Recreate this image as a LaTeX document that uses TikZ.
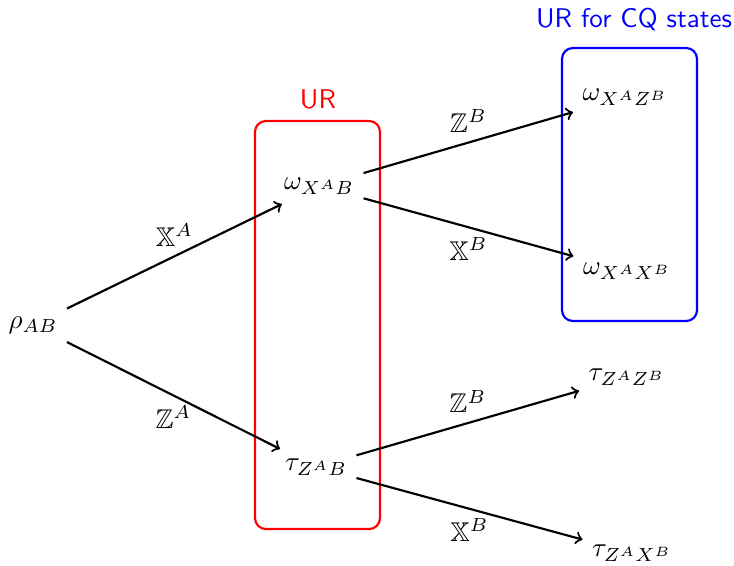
\documentclass[tikz,border=0pt]{standalone}
\usepackage{amssymb}
\begin{document}
\begin{tikzpicture}[x=0.013cm,y=-0.013cm,
  conn/.style={->,thick},
  boxline/.style={thick,rounded corners=4pt},
  lab/.style={font=\sffamily}]
\useasboundingbox (0,0) rectangle (734,565);
% boxes
\draw[boxline,red] (255,121) rectangle (380,529);
\draw[boxline,blue] (562,48) rectangle (697,321);
\node[lab,text=red] (urlab) at (318,99) {UR};
\node[lab,text=blue] (cqlab) at (634,19) {UR for CQ states};
% states
\node (rho) at (33,325) {$\rho_{AB}$};
\node (wxb) at (319,186) {$\omega_{X^AB}$};
\node (tzb) at (316,467) {$\tau_{Z^AB}$};
\node (wxz) at (625,97) {$\omega_{X^AZ^B}$};
\node (wxx) at (627,271) {$\omega_{X^AX^B}$};
\node (tzz) at (627,377) {$\tau_{Z^AZ^B}$};
\node (tzx) at (632,553) {$\tau_{Z^AX^B}$};
% connectors
\draw[conn] (rho) -- node[above] {$\mathbb{X}^A$} (wxb);
\draw[conn] (rho) -- node[below] {$\mathbb{Z}^A$} (tzb);
\draw[conn] (wxb) -- node[above] {$\mathbb{Z}^B$} (wxz);
\draw[conn] (wxb) -- node[below] {$\mathbb{X}^B$} (wxx);
\draw[conn] (tzb) -- node[above] {$\mathbb{Z}^B$} (tzz);
\draw[conn] (tzb) -- node[below] {$\mathbb{X}^B$} (tzx);
\end{tikzpicture}
\end{document}
